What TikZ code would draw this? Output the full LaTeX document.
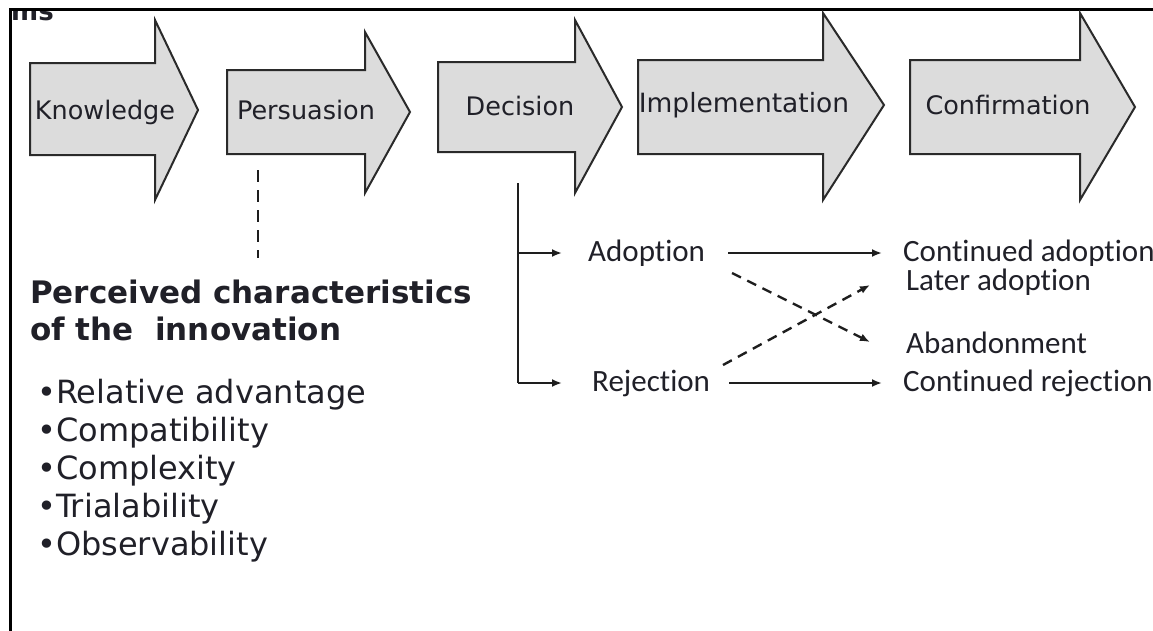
\documentclass[tikz,border=0pt]{standalone}
\usepackage{fontspec}
\setmainfont{DejaVu Sans}
\newfontfamily\calib[Ligatures=NoCommon]{Carlito}
\usetikzlibrary{arrows.meta,calc}
\definecolor{arrowfill}{HTML}{DCDCDC}
\definecolor{arrowline}{HTML}{2A2A2A}
\definecolor{txt}{HTML}{202028}
\definecolor{lnk}{HTML}{1E1E1E}
\begin{document}
\begin{tikzpicture}[x=1pt,y=-1pt,
  blockarrow/.style={fill=arrowfill, draw=arrowline, line width=2pt, line join=miter},
  steplabel/.style={font=\fontsize{25.5}{30}\selectfont, text=txt, inner sep=0},
  outcome/.style={font=\calib\fontsize{31}{36}\selectfont, text=txt, inner sep=0, anchor=west},
  link/.style={line width=2.4pt, draw=lnk, -{Latex[length=10pt,width=8pt]}},
  dashlink/.style={link, dash pattern=on 10pt off 7pt},
]
\useasboundingbox (0,0) rectangle (1153,630);

% frame
\begin{scope}
  \clip (11.5,10.5) rectangle (90,40);
  \node[font=\bfseries\fontsize{26}{26}\selectfont, text=txt, anchor=base west, inner sep=0] (frag) at (11,20) {ms};
\end{scope}
\draw[line width=3pt, line cap=rect] (10,630) -- (10,9) -- (1153,9);

% stage arrows
\draw[blockarrow] (30,63) -- (155,63) -- (155,20) -- (198,110) -- (155,200) -- (155,155) -- (30,155) -- cycle;
\draw[blockarrow] (227,70) -- (365,70) -- (365,32) -- (410,112) -- (365,193) -- (365,154) -- (227,154) -- cycle;
\draw[blockarrow] (438,62) -- (575,62) -- (575,20) -- (622,107) -- (575,193) -- (575,152) -- (438,152) -- cycle;
\draw[blockarrow] (638,60) -- (823,60) -- (823,13) -- (884,105) -- (823,200) -- (823,154) -- (638,154) -- cycle;
\draw[blockarrow] (910,60) -- (1080,60) -- (1080,13) -- (1135,107) -- (1080,200) -- (1080,154) -- (910,154) -- cycle;

\node[steplabel] (know) at (105,112) {Knowledge};
\node[steplabel] (pers) at (306,110) {Persuasion};
\node[steplabel] (deci) at (520,106) {Decision};
\node[steplabel, font=\fontsize{26.5}{30}\selectfont] (impl) at (744,105) {Implementation};
\node[steplabel] (conf) at (1008,105) {Confirmation};

% perceived characteristics
\node[font=\bfseries\fontsize{31}{37}\selectfont, text=txt, align=left, anchor=north west, inner sep=0] (head) at (30,280)
  {Perceived characteristics\\of the~ innovation};
\node[font=\fontsize{32}{38}\selectfont, text=txt, align=left, anchor=north west, inner sep=0] (traits) at (37,379)
  {•Relative advantage\\•Compatibility\\•Complexity\\•Trialability\\•Observability};

\coordinate (persfoot) at (258,170);
\draw[line width=1.8pt, draw=lnk, dash pattern=on 12pt off 8pt] (persfoot) -- ($(persfoot |- head.north)+(0,-22)$);

% decision outcomes
\node[outcome] (adopt) at (588,253) {Adoption};
\node[outcome] (reject) at (592,383) {Rejection};
\node[outcome] (contadopt) at (903,253) {Continued adoption};
\node[outcome] (later) at (906,282) {Later adoption};
\node[outcome] (aband) at (906,343) {Abandonment};
\node[outcome] (contrej) at (903,383) {Continued rejection};

\coordinate (decifoot) at (518,183);
\draw[line width=2.2pt, draw=lnk] (decifoot) -- (decifoot |- reject.west);
\draw[link, shorten >=26pt] (decifoot |- adopt.west) -- (adopt.west);
\draw[link, shorten >=30pt] (decifoot |- reject.west) -- (reject.west);

\draw[link, shorten <=23pt, shorten >=21pt] (adopt.east) -- (contadopt.west);
\draw[link, shorten <=19pt, shorten >=21pt] (reject.east) -- (contrej.west);

\draw[dashlink] ($(aband.west)+(-174,-70)$) -- ($(aband.west)+(-36,-1)$);
\draw[dashlink] ($(later.west)+(-183,83)$) -- ($(later.west)+(-36,3)$);
\end{tikzpicture}
\end{document}
